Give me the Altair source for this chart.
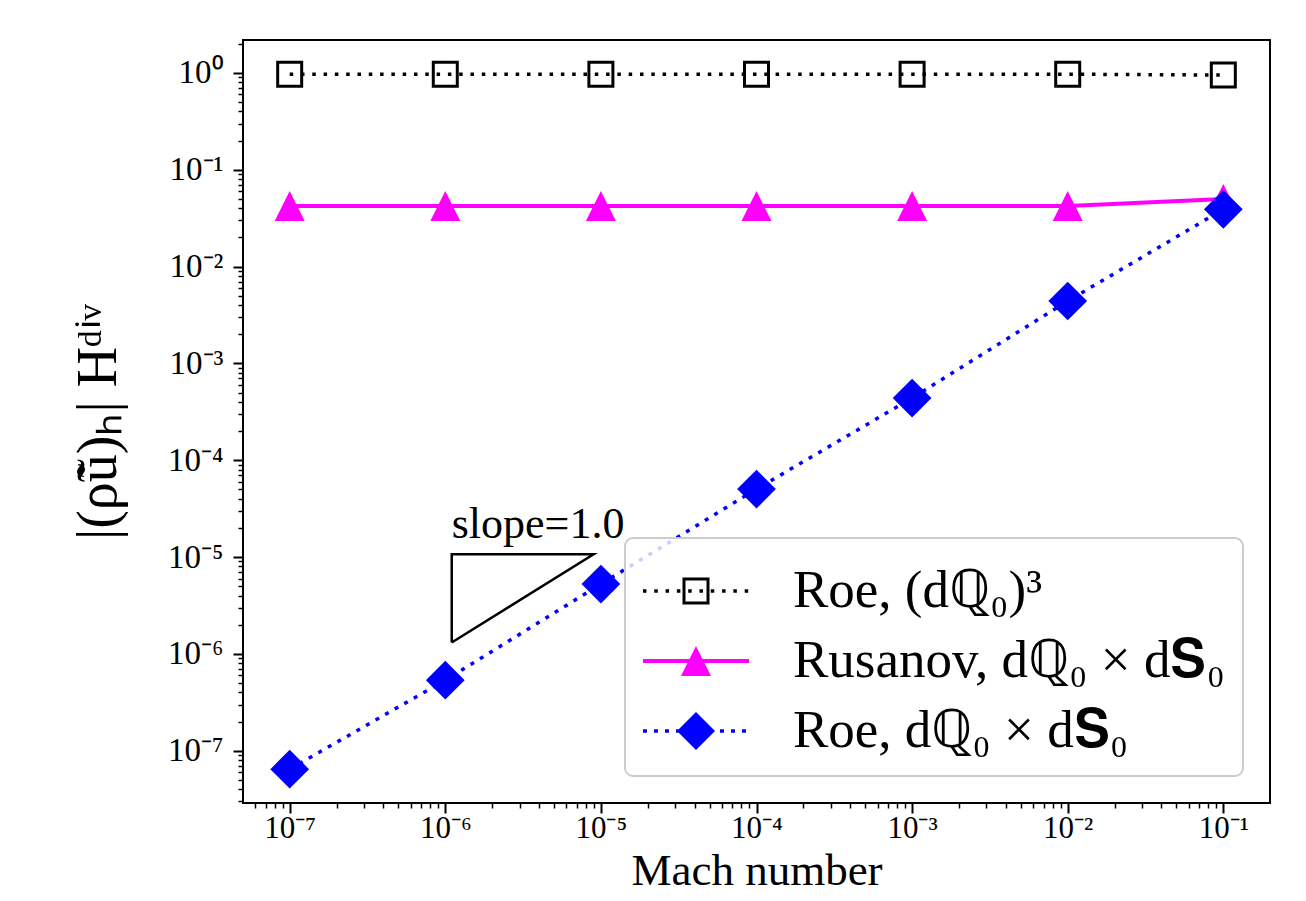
import math
import altair as alt
import pandas as pd

# ---------------- data ----------------
mach = [1e-7, 1e-6, 1e-5, 1e-4, 1e-3, 1e-2, 1e-1]
roe_cube = [0.97, 0.97, 0.97, 0.97, 0.97, 0.97, 0.95]
rusanov = [0.0423, 0.0423, 0.0423, 0.0423, 0.0423, 0.0423, 0.050]
roe_prod = [6.45e-8, 5.35e-7, 5.26e-6, 5.04e-5, 4.39e-4, 4.41e-3, 0.039]

series_labels = ["Roe, (dℚ₀)³", "Rusanov, dℚ₀ × d𝐒₀", "Roe, dℚ₀ × d𝐒₀"]
series_colors = ["#000000", "#ff00ff", "#0000ff"]

slope_tri_x = [1.10e-6, 1.10e-6, 8.97e-6, 1.10e-6]
slope_tri_y = [1.31e-6, 1.07e-5, 1.07e-5, 1.31e-6]
slope_text = ["slope=1.0"]
slope_text_x = [1.10e-6]
slope_text_y = [1.57e-5]

x_tick_values = [1e-7, 1e-6, 1e-5, 1e-4, 1e-3, 1e-2, 1e-1]
x_tick_labels = ["10⁻⁷", "10⁻⁶", "10⁻⁵", "10⁻⁴", "10⁻³", "10⁻²", "10⁻¹"]
y_tick_values = [1e0, 1e-1, 1e-2, 1e-3, 1e-4, 1e-5, 1e-6, 1e-7]
y_tick_labels = ["10⁰", "10⁻¹", "10⁻²", "10⁻³", "10⁻⁴", "10⁻⁵", "10⁻⁶", "10⁻⁷"]

x_domain = [10 ** -7.3, 10 ** -0.7]
y_domain = [10 ** -7.54, 10 ** 0.34]

x_title = "Mach number"
y_title = "|(ρ̃ũ)ₕ| Hᵈⁱᵛ"

FONT = "Liberation Serif"

# minor tick positions (axis decoration)
x_minor = [m * 10.0 ** k for k in range(-8, 0) for m in range(2, 10)
           if x_domain[0] <= m * 10.0 ** k <= x_domain[1]]
y_minor = [m * 10.0 ** k for k in range(-8, 1) for m in range(2, 10)
           if y_domain[0] <= m * 10.0 ** k <= y_domain[1]]


def label_expr(values, labels):
    parts = []
    for v, lab in zip(values, labels):
        e = round(math.log10(v))
        parts.append(f"abs(log(datum.value)/LN10 - ({e})) < 0.01 ? '{lab}'")
    return " : ".join(parts) + " : ''"


# ---------------- tables ----------------
df_cube = pd.DataFrame({"x": mach, "y": roe_cube, "series": series_labels[0]})
df_rus = pd.DataFrame({"x": mach, "y": rusanov, "series": series_labels[1]})
df_prod = pd.DataFrame({"x": mach, "y": roe_prod, "series": series_labels[2]})
df_all = pd.concat([df_cube, df_rus, df_prod], ignore_index=True)
df_tri = pd.DataFrame({"x": slope_tri_x, "y": slope_tri_y, "o": list(range(len(slope_tri_x)))})
df_txt = pd.DataFrame({"x": slope_text_x, "y": slope_text_y, "t": slope_text})

xscale = alt.Scale(type="log", domain=x_domain, nice=False)
yscale = alt.Scale(type="log", domain=y_domain, nice=False)

x_major_axis = alt.Axis(values=x_tick_values, labelExpr=label_expr(x_tick_values, x_tick_labels),
                        tickSize=10, tickWidth=2, labelPadding=0, orient="bottom",
                        title=x_title, titleFontSize=45, titlePadding=5,
                        labelFontSize=31, labelFlush=False, labelOverlap=False)
y_major_axis = alt.Axis(values=y_tick_values, labelExpr=label_expr(y_tick_values, y_tick_labels),
                        tickSize=10, tickWidth=2, labelPadding=10, orient="left",
                        title=y_title, titleFontSize=56, titlePadding=40,
                        labelFontSize=33, labelFlush=False, labelOverlap=False)
x_minor_axis = alt.Axis(values=x_minor, labels=False, tickSize=5, tickWidth=1.5,
                        orient="bottom", title=None)
y_minor_axis = alt.Axis(values=y_minor, labels=False, tickSize=5, tickWidth=1.5,
                        orient="left", title=None)


def X(axis=None):
    return alt.X("x:Q", scale=xscale, axis=axis)


def Y(axis=None):
    return alt.Y("y:Q", scale=yscale, axis=axis)


# ---------------- legend symbol paths ----------------
SYM_SIZE = 5000
unit = math.sqrt(SYM_SIZE) / 2.0


def u(px):
    return px / unit


def rect(x0, x1, h):
    return f"M{x0:.4f},{-h:.4f}H{x1:.4f}V{h:.4f}H{x0:.4f}Z"


def dots(thick, length, period):
    out = []
    x = -1.5
    while x + u(length) <= 1.5 + 1e-9:
        out.append(rect(x, x + u(length), u(thick / 2)))
        x += u(period)
    return "".join(out)


a_out, a_in = u(13.5), u(10.5)
path_square = (dots(3.5, 3.5, 11.3)
               + f"M{-a_out:.4f},{-a_out:.4f}H{a_out:.4f}V{a_out:.4f}H{-a_out:.4f}Z"
               + f"M{-a_in:.4f},{-a_in:.4f}V{a_in:.4f}H{a_in:.4f}V{-a_in:.4f}Z")
t = u(15)
path_tri = rect(-1.5, 1.5, u(2)) + f"M0,{-t:.4f}L{t:.4f},{t:.4f}L{-t:.4f},{t:.4f}Z"
d = u(19)
path_diamond = dots(3.5, 4, 11) + f"M0,{-d:.4f}L{d:.4f},0L0,{d:.4f}L{-d:.4f},0Z"
legend_paths = [path_square, path_tri, path_diamond]

# ---------------- layers ----------------
line_cube = alt.Chart(df_cube).mark_line(color="black", strokeWidth=3.5, strokeDash=[3.5, 7.8],
                                         strokeCap="butt").encode(x=X(x_major_axis), y=Y(y_major_axis))
pts_cube = alt.Chart(df_cube).mark_point(shape="square", size=576, filled=False, color="black",
                                         strokeWidth=3, opacity=1).encode(x=X(), y=Y())
line_rus = alt.Chart(df_rus).mark_line(color="#ff00ff", strokeWidth=4).encode(x=X(), y=Y())
pts_rus = alt.Chart(df_rus).mark_point(shape="M0,-1L1,1L-1,1Z", size=900, filled=True,
                                       color="#ff00ff", opacity=1).encode(x=X(), y=Y())
line_prod = alt.Chart(df_prod).mark_line(color="#0000ff", strokeWidth=3.5, strokeDash=[4, 7],
                                         strokeCap="butt").encode(x=X(), y=Y())
pts_prod = alt.Chart(df_prod).mark_point(shape="diamond", size=1500, filled=True,
                                         color="#0000ff", opacity=1).encode(x=X(), y=Y())

minor = alt.Chart(df_prod).mark_point(opacity=0).encode(x=X(x_minor_axis), y=Y(y_minor_axis))

tri = alt.Chart(df_tri).mark_line(color="black", strokeWidth=2.5, strokeJoin="miter").encode(
    x=X(), y=Y(), order="o:Q")
txt = alt.Chart(df_txt).mark_text(align="left", baseline="alphabetic", fontSize=44, font=FONT,
                                  color="black").encode(x=X(), y=Y(), text="t:N")

legend_layer = alt.Chart(df_all).mark_point(filled=True, opacity=0).encode(
    x=X(), y=Y(),
    color=alt.Color("series:N", scale=alt.Scale(domain=series_labels, range=series_colors),
                    legend=alt.Legend(title=None)),
    shape=alt.Shape("series:N", scale=alt.Scale(domain=series_labels, range=legend_paths),
                    legend=alt.Legend(title=None)),
)

chart = alt.layer(
    line_cube, pts_cube, line_rus, pts_rus, line_prod, pts_prod, minor, tri, txt, legend_layer
).resolve_axis(x="independent", y="independent").properties(
    width=1027, height=763,
    autosize=alt.AutoSizeParams(type="none"),
    padding={"left": 235, "top": 32, "right": 20, "bottom": 98},
).configure_view(stroke="black", strokeWidth=2).configure_axis(
    labelFont=FONT, titleFont=FONT, labelColor="black", titleColor="black",
    tickColor="black", titleFontWeight="normal", domain=False, grid=False,
).configure_legend(
    orient="bottom-right", offset=27, padding=17.5, fillColor="rgba(255,255,255,0.8)",
    strokeColor="#cccccc", cornerRadius=8, strokeWidth=2,
    labelFont=FONT, labelFontSize=53, labelColor="black", labelLimit=1000,
    symbolSize=SYM_SIZE, symbolStrokeWidth=0, symbolOffset=18, labelOffset=61.5,
    rowPadding=7, symbolOpacity=1,
)

chart.save("out.html", embed_options={"renderer": "svg", "actions": False})
